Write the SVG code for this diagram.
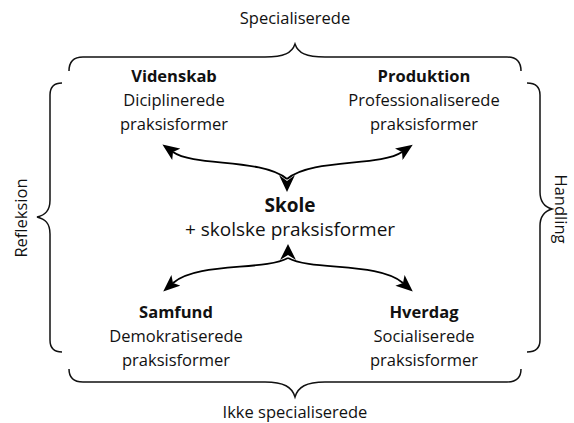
<svg xmlns="http://www.w3.org/2000/svg" width="574" height="423" viewBox="0 0 574 423">
<style>
text{font-family:"Open Sans","Noto Sans","Liberation Sans",sans-serif;fill:#111;text-anchor:middle}
.t{font-size:16.5px}
.b{font-size:16.5px;font-weight:bold}
.c{font-size:19px}
.cb{font-size:19px;font-weight:bold}
.l{font-size:16.5px}
.brace{fill:none;stroke:#111;stroke-width:1.5}
.con{fill:none;stroke:#000;stroke-width:1.8}
</style>
<defs>
<marker id="ah" markerUnits="userSpaceOnUse" markerWidth="18" markerHeight="14" viewBox="0 0 18 14" refX="4" refY="7" orient="auto">
<path d="M0,0 L17,7 L0,14 L4,7 z" fill="#000"/>
</marker>
</defs>
<g id="braces">
<g id="brace-top">
<path class="brace" d="M69 71 Q69 57 83 57 L265 57 C284 57 292 53 295 44 C298 53 306 57 325 57 L507 57 Q521 57 521 71"/>
<text class="l" x="295" y="24">Specialiserede</text>
</g>
<g id="brace-bottom">
<path class="brace" d="M69 369 Q69 382 83 382 L265 382 C284 382 292 387 295 397 C298 387 306 382 325 382 L507 382 Q521 382 521 369"/>
<text class="l" x="295" y="418">Ikke specialiserede</text>
</g>
<g id="brace-left">
<path class="brace" d="M62 83 Q50 83 50 95 L50 200 C50 211 45 215 37 217 C45 219 50 223 50 234 L50 340 Q50 352 62 352"/>
<text class="l" transform="translate(27 218) rotate(-90)">Refleksion</text>
</g>
<g id="brace-right">
<path class="brace" d="M527 83 Q540 83 540 95 L540 192 C540 203 545 207 552 209 C545 211 540 215 540 226 L540 340 Q540 352 527 352"/>
<text class="l" transform="translate(555 209) rotate(90)">Handling</text>
</g>
</g>
<g id="node-videnskab">
<text class="b" x="174" y="82">Videnskab</text>
<text class="t" x="174" y="106">Diciplinerede</text>
<text class="t" x="174" y="130">praksisformer</text>
</g>
<g id="node-produktion">
<text class="b" x="424" y="82">Produktion</text>
<text class="t" x="424" y="106">Professionaliserede</text>
<text class="t" x="424" y="130">praksisformer</text>
</g>
<g id="node-skole">
<text class="cb" x="290" y="212">Skole</text>
<text class="c" x="290" y="236">+ skolske praksisformer</text>
</g>
<g id="node-samfund">
<text class="b" x="176" y="318">Samfund</text>
<text class="t" x="176" y="342">Demokratiserede</text>
<text class="t" x="176" y="366">praksisformer</text>
</g>
<g id="node-hverdag">
<text class="b" x="424" y="318">Hverdag</text>
<text class="t" x="424" y="342">Socialiserede</text>
<text class="t" x="424" y="366">praksisformer</text>
</g>
<g id="connectors">
<path class="con" d="M287 179 C262 158 194 167 173 152" marker-end="url(#ah)"/>
<path class="con" d="M287 179 C312 158 380 167 402 152" marker-end="url(#ah)"/>
<path class="con" d="M288 258 C264 271 197 262 173 283" marker-end="url(#ah)"/>
<path class="con" d="M288 258 C312 271 379 262 403 283" marker-end="url(#ah)"/>
<path d="M279 175 L287 181 L295 175 L287 192 z" fill="#000"/>
<path d="M280 260 L288 255 L296 260 L288 244 z" fill="#000"/>
</g>
</svg>
